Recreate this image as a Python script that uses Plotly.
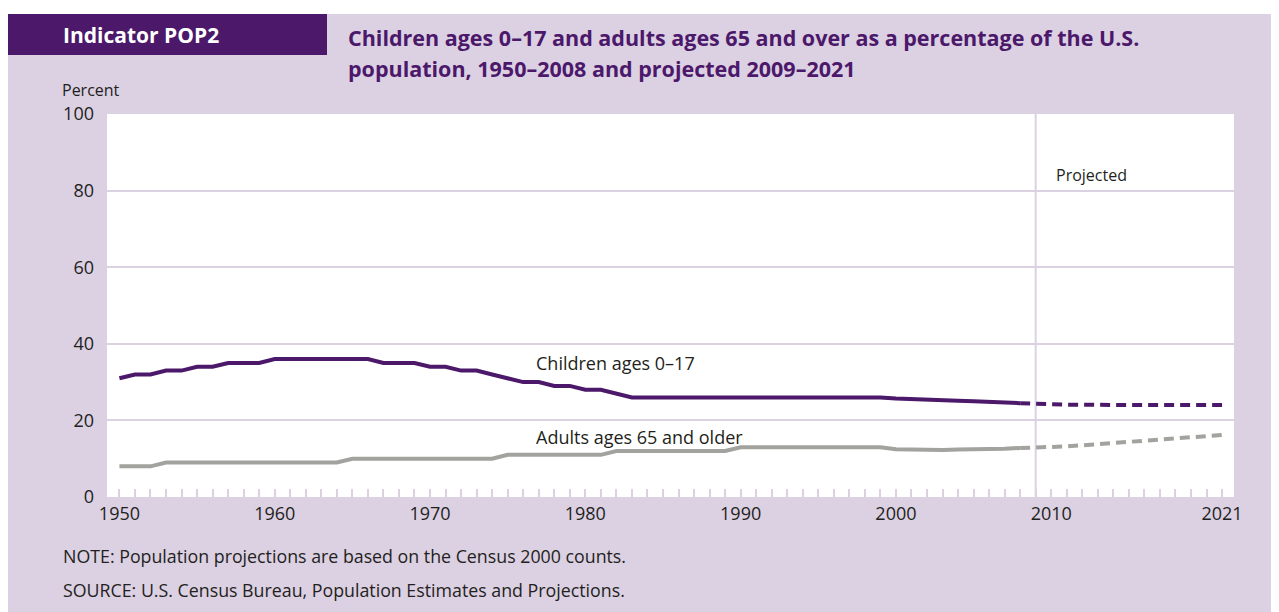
import plotly.graph_objects as go

# ---------------- data ----------------
years_hist = list(range(1950, 2009))
children_hist = [31, 32, 32, 33, 33, 34, 34, 35, 35, 35,
                 36, 36, 36, 36, 36, 36, 36, 35, 35, 35,
                 34, 34, 33, 33, 32, 31, 30, 30, 29, 29,
                 28, 28, 27, 26, 26, 26, 26, 26, 26, 26,
                 26, 26, 26, 26, 26, 26, 26, 26, 26, 26,
                 25.7, 25.5, 25.4, 25.3, 25.1, 25.0, 24.8, 24.6, 24.5]
adults_hist = [8, 8, 8, 9, 9, 9, 9, 9, 9, 9,
               9, 9, 9, 9, 9, 10, 10, 10, 10, 10,
               10, 10, 10, 10, 10, 11, 11, 11, 11, 11,
               11, 11, 12, 12, 12, 12, 12, 12, 12, 12,
               13, 13, 13, 13, 13, 13, 13, 13, 13, 13,
               12.5, 12.4, 12.3, 12.3, 12.4, 12.4, 12.5, 12.6, 12.8]

years_proj = list(range(2009, 2022))
children_proj = [24.3, 24.2, 24.1, 24.1, 24.0, 24.0, 24.0, 24.0, 24.0, 24.0, 24.0, 24.0, 24.0]
adults_proj = [12.9, 13.0, 13.2, 13.5, 13.8, 14.1, 14.4, 14.7, 15.0, 15.3, 15.6, 15.9, 16.2]

x_label_years = [1950, 1960, 1970, 1980, 1990, 2000, 2010, 2021]
y_ticks = [0, 20, 40, 60, 80, 100]
projection_start = 2009

# ---------------- style ----------------
PURPLE = "#4b186a"
GRAY = "#a2a29e"
LAV = "#dcd0e3"
TEXT = "#231f20"
FONT = "Open Sans"

OFF = 8  # page body margin in the browser
W_PAGE, H_PAGE = 1279, 612
W_FIG, H_FIG = W_PAGE - OFF, H_PAGE - OFF
# plot area in page pixels
L, R, T, B = 107, 1234, 114, 497
PW, PH = R - L, B - T


def px_x(p):
    return (p - L) / PW


def px_y(p):
    return (B - p) / PH


fig = go.Figure()

# historical
fig.add_trace(go.Scatter(x=years_hist, y=children_hist, mode="lines",
                         line=dict(color=PURPLE, width=4), hoverinfo="skip",
                         showlegend=False))
fig.add_trace(go.Scatter(x=years_hist, y=adults_hist, mode="lines",
                         line=dict(color=GRAY, width=4), hoverinfo="skip",
                         showlegend=False))
# projected (joined to last observed point)
fig.add_trace(go.Scatter(x=[years_hist[-1]] + years_proj,
                         y=[children_hist[-1]] + children_proj, mode="lines",
                         line=dict(color=PURPLE, width=4, dash="10px,6px"),
                         hoverinfo="skip", showlegend=False))
fig.add_trace(go.Scatter(x=[years_hist[-1]] + years_proj,
                         y=[adults_hist[-1]] + adults_proj, mode="lines",
                         line=dict(color=GRAY, width=4, dash="10px,6px"),
                         hoverinfo="skip", showlegend=False))

all_years = list(range(1950, 2022))
tick_text = [str(y) if y in x_label_years else "" for y in all_years]

shapes = [
    # white top strip
    dict(type="rect", xref="paper", yref="paper", x0=px_x(0), x1=px_x(W_PAGE),
         y0=px_y(14), y1=px_y(0), fillcolor="white", line_width=0, layer="below"),
    # header box
    dict(type="rect", xref="paper", yref="paper", x0=px_x(OFF), x1=px_x(327),
         y0=px_y(55), y1=px_y(14), fillcolor=PURPLE, line_width=0, layer="below"),
    # projection divider
    dict(type="line", xref="x", yref="paper", x0=projection_start, x1=projection_start,
         y0=0, y1=1, line=dict(color=LAV, width=2), layer="below"),
]

annotations = [
    dict(text="<b>Indicator POP2</b>", xref="paper", yref="paper",
         x=px_x(61), y=px_y(35), xanchor="left", yanchor="middle", showarrow=False,
         font=dict(family=FONT, size=21, color="white")),
    dict(text="<b>Children ages 0–17 and adults ages 65 and over as a percentage of the U.S.</b>",
         xref="paper", yref="paper", x=px_x(346), y=px_y(37), xanchor="left",
         yanchor="middle", showarrow=False,
         font=dict(family=FONT, size=21.5, color=PURPLE)),
    dict(text="<b>population, 1950–2008 and projected 2009–2021</b>",
         xref="paper", yref="paper", x=px_x(346), y=px_y(68), xanchor="left",
         yanchor="middle", showarrow=False,
         font=dict(family=FONT, size=21.5, color=PURPLE)),
    dict(text="Percent", xref="paper", yref="paper", x=px_x(60), y=px_y(90),
         xanchor="left", yanchor="middle", showarrow=False,
         font=dict(family=FONT, size=16, color=TEXT)),
    dict(text="Projected", xref="x", yref="paper", x=2010.2, y=px_y(175),
         xanchor="left", yanchor="middle", showarrow=False,
         font=dict(family=FONT, size=16, color=TEXT)),
    dict(text="Children ages 0–17", xref="x", yref="y", x=1976.7, y=35.1,
         xanchor="left", yanchor="middle", showarrow=False,
         font=dict(family=FONT, size=18, color=TEXT)),
    dict(text="Adults ages 65 and older", xref="x", yref="y", x=1976.7, y=15.7,
         xanchor="left", yanchor="middle", showarrow=False,
         font=dict(family=FONT, size=18, color=TEXT)),
    dict(text="NOTE: Population projections are based on the Census 2000 counts.",
         xref="paper", yref="paper", x=px_x(61), y=px_y(556), xanchor="left",
         yanchor="middle", showarrow=False,
         font=dict(family=FONT, size=17.8, color=TEXT)),
    dict(text="SOURCE: U.S. Census Bureau, Population Estimates and Projections.",
         xref="paper", yref="paper", x=px_x(61), y=px_y(590), xanchor="left",
         yanchor="middle", showarrow=False,
         font=dict(family=FONT, size=17.8, color=TEXT)),
]

fig.update_layout(
    width=W_FIG, height=H_FIG,
    margin=dict(l=L - OFF, r=W_PAGE - R, t=T - OFF, b=H_PAGE - B, pad=0),
    paper_bgcolor=LAV, plot_bgcolor="white",
    font=dict(family=FONT, color=TEXT),
    shapes=shapes, annotations=annotations,
    xaxis=dict(range=[1949.2, 2021.77], tickmode="array", tickvals=all_years,
               ticktext=tick_text, ticks="inside", ticklen=8, tickwidth=2,
               tickcolor=LAV, showgrid=False, zeroline=False, showline=False,
               tickfont=dict(family=FONT, size=18, color=TEXT),
               ticklabelstandoff=4, fixedrange=True),
    yaxis=dict(range=[0, 100], tickmode="array", tickvals=y_ticks,
               showgrid=True, gridcolor=LAV, gridwidth=2, zeroline=False,
               showline=False, ticks="",
               tickfont=dict(family=FONT, size=18, color=TEXT),
               ticklabelstandoff=12, fixedrange=True),
)

fig.write_html("out.html")
